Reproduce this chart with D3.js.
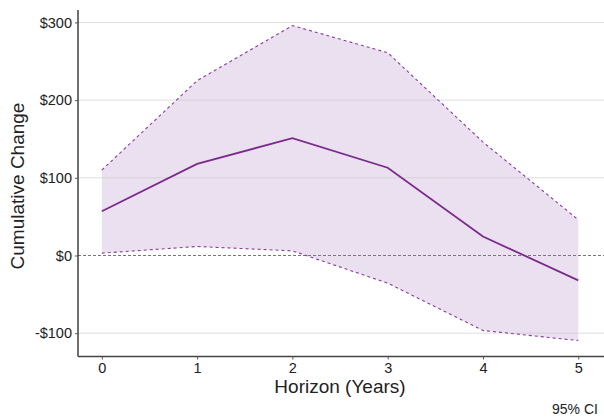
<!DOCTYPE html>
<html>
<head>
<meta charset="utf-8">
<script src="https://cdn.jsdelivr.net/npm/d3@7"></script>
<style>
  html, body { margin: 0; padding: 0; background: #fff; }
  svg { display: block; font-family: "Liberation Sans", Arial, Helvetica, sans-serif; }
</style>
</head>
<body>
<svg id="chart" width="604" height="420"></svg>
<script>
const horizons = [0, 1, 2, 3, 4, 5];
const estimate = [57, 118, 151, 113, 24.5, -32];
const upperCI = [110, 225, 296, 261, 146, 46];
const lowerCI = [3, 11.6, 6, -35.6, -96.5, -109.5];
const yTicks = [-100, 0, 100, 200, 300];
const xTicks = [0, 1, 2, 3, 4, 5];

(function () {
const svg = d3.select("#chart");
const pLeft = 78, pRight = 604, pTop = 10, pBottom = 356.5;

const x = d3.scaleLinear().domain([-0.25, 5.27]).range([pLeft, pRight]);
const y = d3.scaleLinear().domain([-130, 316]).range([pBottom, pTop]);

const data = horizons.map((h, i) => ({ h, est: estimate[i], lo: lowerCI[i], hi: upperCI[i] }));

// band
svg.append("path")
  .datum(data)
  .attr("fill", "rgba(130, 70, 160, 0.17)")
  .attr("d", d3.area().x(d => x(d.h)).y0(d => y(d.lo)).y1(d => y(d.hi)));

// gridlines (not at zero)
svg.append("g").selectAll("line")
  .data(yTicks.filter(t => t !== 0))
  .join("line")
  .attr("x1", pLeft).attr("x2", pRight)
  .attr("y1", d => y(d)).attr("y2", d => y(d))
  .attr("stroke", "#c8c8c8")
  .attr("stroke-opacity", 0.6)
  .attr("stroke-width", 1);

// zero line
svg.append("line")
  .attr("x1", pLeft).attr("x2", pRight)
  .attr("y1", y(0)).attr("y2", y(0))
  .attr("stroke", "#777")
  .attr("stroke-width", 1.1)
  .attr("stroke-dasharray", "3,2");

// CI dashed lines
const mkLine = (key) => d3.line().x(d => x(d.h)).y(d => y(d[key]));
["hi", "lo"].forEach(k => {
  svg.append("path")
    .datum(data)
    .attr("fill", "none")
    .attr("stroke", "#8a3d9c")
    .attr("stroke-width", 1.1)
    .attr("stroke-dasharray", "3,3")
    .attr("d", mkLine(k));
});

// estimate line
svg.append("path")
  .datum(data)
  .attr("fill", "none")
  .attr("stroke", "#7b2a8c")
  .attr("stroke-width", 1.8)
  .attr("d", mkLine("est"));

// y axis
const yAxis = svg.append("g")
  .attr("transform", `translate(${pLeft},0)`)
  .call(d3.axisLeft(y).tickValues(yTicks).tickSize(3).tickPadding(3)
    .tickFormat(d => (d < 0 ? "-$" : "$") + Math.abs(d)));
yAxis.select(".domain").attr("d", `M0,${pTop}V${pBottom}`).attr("stroke", "#222").attr("stroke-width", 1.3);
yAxis.selectAll(".tick line").attr("stroke", "#555");
yAxis.selectAll(".tick text").attr("font-size", 14.5).attr("fill", "#222")
  .attr("font-family", "'Liberation Sans', Arial, sans-serif");

// x axis
const xAxis = svg.append("g")
  .attr("transform", `translate(0,${pBottom})`)
  .call(d3.axisBottom(x).tickValues(xTicks).tickSize(3).tickPadding(3).tickFormat(d3.format("d")));
xAxis.select(".domain").attr("d", `M${pLeft},0H${pRight}`).attr("stroke", "#444").attr("stroke-width", 1.3);
xAxis.selectAll(".tick line").attr("stroke", "#555");
xAxis.selectAll(".tick text").attr("font-size", 14.5).attr("fill", "#222")
  .attr("font-family", "'Liberation Sans', Arial, sans-serif");

// axis titles
svg.append("text")
  .attr("x", 340).attr("y", 393)
  .attr("text-anchor", "middle")
  .attr("font-size", 19)
  .attr("fill", "#222")
  .text("Horizon (Years)");

svg.append("text")
  .attr("transform", "translate(24,186) rotate(-90)")
  .attr("text-anchor", "middle")
  .attr("font-size", 19)
  .attr("fill", "#222")
  .text("Cumulative Change");

svg.append("text")
  .attr("x", 552).attr("y", 414)
  .attr("font-size", 14)
  .attr("fill", "#222")
  .text("95% CI");
})();
</script>
</body>
</html>
